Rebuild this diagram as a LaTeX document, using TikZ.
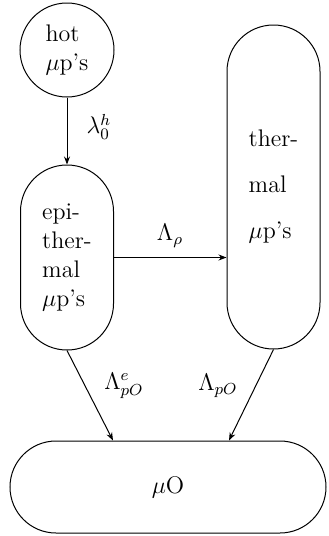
\documentclass[tikz,border=0pt]{standalone}
\usetikzlibrary{arrows.meta}
\begin{document}
\begin{tikzpicture}[x=0.5pt,y=-0.5pt,line width=0.5pt,
  >={Stealth[length=4pt,width=3pt]},
  every node/.style={font=\fontsize{12}{14.5}\selectfont},
  roundnode/.style={draw,circle,minimum size=47pt,inner sep=0pt,align=left},
  pill/.style={draw,rectangle,rounded corners=23.2pt,inner sep=0pt,align=left,minimum width=46.5pt},
  widepill/.style={draw,rectangle,rounded corners=23pt,inner sep=0pt,minimum width=158pt,minimum height=46pt},
  lbl/.style={inner sep=1pt}]
\useasboundingbox (0,0) rectangle (328,536);
\node[roundnode] (hot) at (67,50) {hot\\$\mu$p's};
\node[pill,minimum height=92.5pt] (epi) at (67,257.5) {epi-\\ther-\\mal\\$\mu$p's};
\node[pill,minimum height=162pt] (therm) at (273.5,187) {ther-\\[8.5pt]mal\\[8.5pt]$\mu$p's};
\node[widepill] (mu) at (168,487) {$\mu$O};
\draw[->] (hot) -- (epi);
\draw[->] (epi.east) -- (epi.east -| therm.west);
\draw[->] (epi.south) -- (mu.north -| 113,0);
\draw[->] (therm.south) -- (mu.north -| 229,0);
\node[lbl] (l1) at (99,127) {$\lambda_0^h$};
\node[lbl] (l2) at (170,236) {$\Lambda_\rho$};
\node[lbl] (l3) at (124,386) {$\Lambda_{pO}^e$};
\node[lbl] (l4) at (218,386) {$\Lambda_{pO}$};
\end{tikzpicture}
\end{document}
